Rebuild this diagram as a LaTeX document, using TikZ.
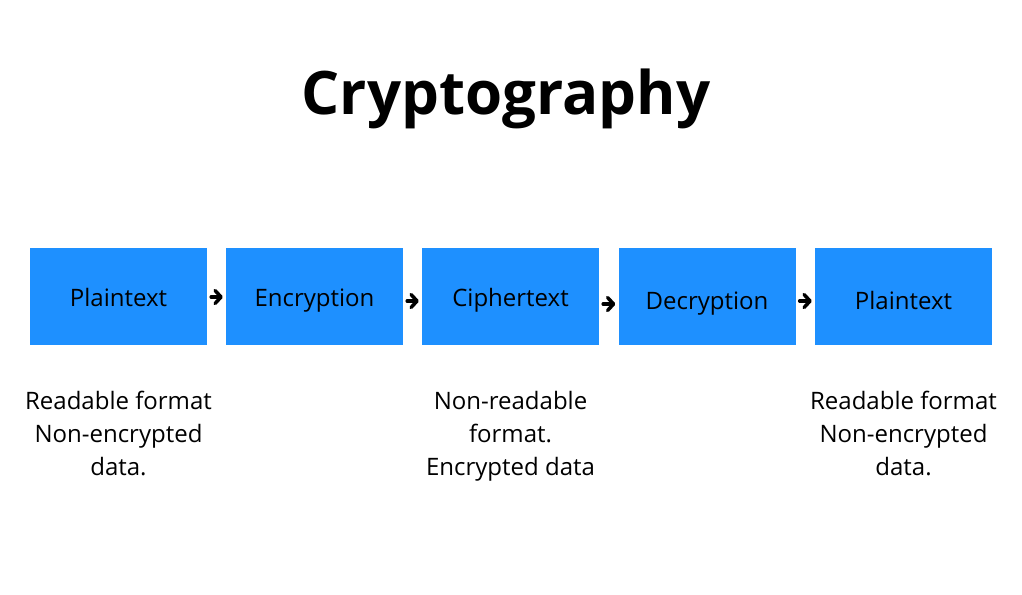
\documentclass[tikz,border=0pt]{standalone}
\usepackage{fontspec}
\setmainfont{Open Sans}
\usetikzlibrary{arrows.meta}
\definecolor{boxblue}{HTML}{1E90FF}
\begin{document}
\begin{tikzpicture}[x=1pt,y=-1pt,
  stepbox/.style={fill=boxblue,draw=none,minimum width=177pt,minimum height=97pt,inner sep=0pt},
  boxtext/.style={anchor=base,inner sep=0pt,font=\fontsize{24}{33}\selectfont},
  notetext/.style={anchor=base,inner sep=0pt,align=center,font=\fontsize{24}{33}\selectfont},
  flow/.style={line width=3.5pt,line cap=round,-{Straight Barb[length=6pt,width=13pt,round]}}]
\useasboundingbox[fill=white] (0,0) rectangle (1022,594);
\node[anchor=base,inner sep=0pt,font=\fontsize{60}{66}\selectfont\bfseries] (title) at (506,114) {Cryptography};
\node[stepbox] (b1) at (118.5,296.5) {};
\node[stepbox] (b2) at (314.5,296.5) {};
\node[stepbox] (b3) at (510.5,296.5) {};
\node[stepbox] (b4) at (707,296.5) {};
\node[stepbox] (b5) at (903.5,296.5) {};
\node[boxtext] (t1) at ([yshift=-9.5pt]b1.center) {Plaintext};
\node[boxtext] (t2) at ([yshift=-9.5pt]b2.center) {Encryption};
\node[boxtext] (t3) at ([yshift=-9.5pt]b3.center) {Ciphertext};
\node[boxtext] (t4) at ([yshift=-12.5pt]b4.center) {Decryption};
\node[boxtext] (t5) at ([yshift=-12.5pt]b5.center) {Plaintext};
\draw[flow] ([xshift=4pt,yshift=-0.5pt]b1.east) -- ([xshift=-3pt,yshift=-0.5pt]b2.west);
\draw[flow] ([xshift=4pt,yshift=-4.5pt]b2.east) -- ([xshift=-3pt,yshift=-4.5pt]b3.west);
\draw[flow] ([xshift=4pt,yshift=-7.5pt]b3.east) -- ([xshift=-3pt,yshift=-7.5pt]b4.west);
\draw[flow] ([xshift=4pt,yshift=-4.5pt]b4.east) -- ([xshift=-3pt,yshift=-4.5pt]b5.west);
\node[notetext] (n1) at (118.5,475) {Readable format\\Non-encrypted\\data.};
\node[notetext] (n3) at (510.5,475) {Non-readable\\format.\\Encrypted data};
\node[notetext] (n5) at (903.5,475) {Readable format\\Non-encrypted\\data.};
\end{tikzpicture}
\end{document}
